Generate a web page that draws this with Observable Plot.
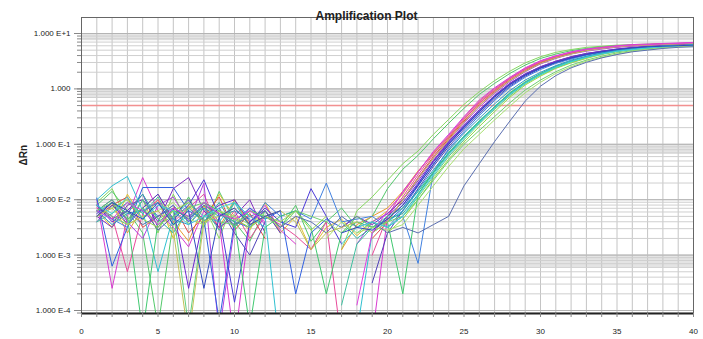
<!DOCTYPE html>
<html><head><meta charset="utf-8">
<script src="https://cdn.jsdelivr.net/npm/d3@7"></script>
<script src="https://cdn.jsdelivr.net/npm/@observablehq/plot@0.6"></script>
<style>
html,body{margin:0;padding:0;background:#fff;}
#chart svg{display:block;}
</style></head><body><div id="chart"></div>
<script>
// cycles 1..40
const cycles = d3.range(1, 41);
// log10(ΔRn) per well, cycles 1..40 (null = not plotted; very low = off-scale dip)
const w01 = [-2.05,-1.8,-2.4,-2.0,-2.6,-1.9,-2.45,-2.1,-2.7,-2.0, -2.5,-2.2,-2.6,null,null,null,-2.9,-2.2,-1.95,-1.65, -1.35,-1.12,-0.82,-0.55,-0.28,-0.05,0.15,0.32,0.47,0.58, 0.66,0.71,0.75,0.77,0.79,0.80,0.81,0.81,0.82,0.82];
const w02 = [-2.1,-1.85,-2.2,-2.6,-4.3,-2.4,-1.95,-2.5,-1.85,-2.4, -2.75,-2.2,-2.5,-2.1,-2.75,-2.4,-2.15,-2.5,-2.3,-1.8, -1.45,-1.2,-0.9,-0.62,-0.35,-0.1,0.1,0.28,0.43,0.55, 0.63,0.69,0.73,0.76,0.78,0.79,0.80,0.81,0.81,0.82];
const w03 = [-2.2,-2.5,-1.9,-2.35,-2.0,-2.7,-2.1,-2.45,-1.9,-2.3, -2.55,-2.05,-2.6,-2.3,-2.9,-2.5,-2.35,-2.65,-2.4,-2.2, -1.9,-1.5,-1.15,-0.85,-0.52,-0.22,0.0,0.2,0.37,0.5, 0.59,0.66,0.71,0.75,0.77,0.79,0.8,0.81,0.82,0.83];
const w04 = [-2.3,-2.05,-2.6,-2.15,-1.9,-2.4,-2.75,-2.1,-2.5,-2.0, -2.45,-2.3,null,null,null,null,-2.9,-2.45,-2.3,-2.15, -1.85,-1.48,-1.17,-0.88,-0.55,-0.25,-0.02,0.19,0.36,0.49, 0.58,0.65,0.7,0.74,0.77,0.79,0.8,0.81,0.82,0.82];
const w05 = [-2.0,-3.6,-2.3,-1.6,-2.2,-2.5,-2.85,-2.2,-2.4,-4.6, -2.4,-2.1,-2.55,-2.8,null,null,null,null,-4.5,-2.3, -1.85,-1.5,-1.13,-0.82,-0.5,-0.2,0.02,0.21,0.38,0.51, 0.6,0.67,0.72,0.75,0.78,0.8,0.81,0.82,0.83,0.84];
const w06 = [-2.15,-2.3,-3.3,-2.25,-2.0,-2.4,-2.15,-1.9,-2.55,-2.2, -2.7,-2.3,-2.45,-2.65,-2.9,-2.4,-4.6,null,-3.0,-2.3, -1.95,-1.55,-1.18,-0.87,-0.55,-0.26,-0.03,0.18,0.35,0.48, 0.57,0.64,0.7,0.74,0.76,0.78,0.8,0.81,0.81,0.82];
const w07 = [-2.3,-2.1,-1.95,-2.5,-2.3,-2.1,-2.6,-2.3,-1.95,-2.55, -2.25,-2.7,null,null,null,null,null,null,-2.7,-2.4, -2.0,-1.6,-1.22,-0.9,-0.58,-0.29,-0.05,0.16,0.33,0.47, 0.56,0.64,0.69,0.73,0.76,0.78,0.79,0.8,0.81,0.82];
const w08 = [-2.2,-2.0,-2.4,-2.7,-2.1,-1.95,-2.4,-1.7,-4.4,-2.5, -2.15,-2.45,null,null,null,null,null,-2.8,-2.4,-2.25, -2.0,-1.62,-1.25,-0.93,-0.62,-0.33,-0.08,0.13,0.31,0.45, 0.55,0.63,0.68,0.72,0.75,0.77,0.79,0.8,0.81,0.82];
const w09 = [-2.1,-2.4,-2.2,-1.9,-2.5,-2.15,-3.6,-2.3,-2.1,-2.0, -2.4,-2.2,-2.6,null,null,null,null,null,-2.6,-2.3, -2.05,-1.7,-1.32,-0.98,-0.68,-0.4,-0.13,0.09,0.26,0.39, 0.49,0.57,0.63,0.68,0.71,0.74,0.76,0.78,0.79,0.8];
const w10 = [-2.25,-2.05,-2.45,-2.15,-1.9,-2.35,-2.1,-1.64,-2.3,-3.85, -2.4,-2.15,-2.4,-2.5,-1.8,-2.3,-2.8,null,null,-2.35, -2.1,-1.72,-1.3,-0.96,-0.66,-0.38,-0.12,0.1,0.27,0.4, 0.5,0.58,0.64,0.68,0.72,0.74,0.76,0.78,0.79,0.8];
const w11 = [-1.97,-3.2,-2.5,-1.78,-1.78,-1.78,-2.2,-2.35,-4.2,-2.4, -2.15,-2.35,-2.2,-3.7,-2.6,-2.35,-2.5,-2.3,-2.5,-2.4, -2.15,-1.75,-1.36,-1.0,-0.7,-0.42,-0.15,0.07,0.25,0.38, 0.48,0.56,0.62,0.67,0.71,0.74,0.76,0.77,0.78,0.79];
const w12 = [-2.3,-2.5,-2.1,-2.0,-2.4,-1.8,-1.6,-2.2,-2.5,-2.3, -2.0,-2.6,null,null,null,null,-2.5,-2.3,-2.45,-2.25, -2.0,-1.66,-1.29,-0.95,-0.66,-0.38,-0.12,0.1,0.27,0.4, 0.5,0.58,0.64,0.68,0.72,0.75,0.77,0.78,0.79,0.8];
const w13 = [-2.4,-2.1,-2.35,-2.15,-2.55,-2.3,-2.0,-2.4,-2.15,-2.6, -3.0,-2.4,null,null,null,null,null,null,-3.5,-2.6, -2.2,-1.8,-1.4,-1.04,-0.73,-0.45,-0.18,0.05,0.23,0.37, 0.47,0.55,0.62,0.67,0.7,0.73,0.75,0.77,0.78,0.79];
const w14 = [-2.2,-2.35,-2.5,-2.0,-2.3,-2.1,-2.4,-2.05,-2.25,-2.4, -2.5,-2.05,-2.3,-2.2,-2.35,-1.7,-2.4,-2.35,-2.3,-2.5, -2.3,-3.15,-1.5,-1.08,-0.77,-0.48,-0.21,0.03,0.21,0.35, 0.46,0.54,0.61,0.66,0.7,0.73,0.75,0.77,0.78,0.79];
const w15 = [-2.0,-1.75,-1.58,-2.2,-3.3,-2.3,-2.05,-2.3,-2.4,-2.05, -2.5,-2.3,-4.8,null,null,null,null,-4.4,-2.6,-2.4, -2.2,-1.85,-1.5,-1.15,-0.85,-0.58,-0.32,-0.08,0.12,0.27, 0.4,0.5,0.58,0.64,0.69,0.72,0.75,0.77,0.78,0.79];
const w16 = [-2.3,-2.05,-2.25,-1.9,-2.35,-2.6,-2.15,-2.4,-2.05,-2.5, -2.2,null,null,null,null,null,-2.4,-2.7,-2.5,-2.35, -2.25,-1.9,-1.52,-1.17,-0.87,-0.6,-0.33,-0.09,0.11,0.26, 0.39,0.49,0.57,0.63,0.68,0.72,0.74,0.76,0.78,0.79];
const w17 = [-2.2,-2.0,-2.3,-4.4,-2.4,-2.2,-2.3,-2.05,-2.2,-2.4, -4.3,-2.5,-2.3,-2.2,-2.5,-3.7,-2.6,-2.4,-2.5,-2.4, -3.7,-1.9,-1.5,-1.15,-0.86,-0.58,-0.32,-0.07,0.13,0.28, 0.41,0.5,0.58,0.64,0.69,0.72,0.75,0.77,0.78,0.79];
const w18 = [-2.1,-2.3,-2.45,-2.0,-2.35,-2.2,-4.3,-2.3,-2.2,-2.5, -2.2,-2.3,null,null,null,null,null,-2.6,-2.4,-2.5, -2.3,-1.95,-1.58,-1.22,-0.92,-0.63,-0.37,-0.12,0.09,0.25, 0.38,0.48,0.56,0.63,0.68,0.71,0.74,0.76,0.78,0.79];
const w19 = [-2.3,-2.15,-2.0,-2.35,-2.5,-2.2,-2.05,-2.4,-2.2,-2.35, -2.5,-2.3,-2.4,-2.2,-2.55,-2.3,null,null,null,-2.6, -2.35,-2.0,-1.62,-1.27,-0.96,-0.68,-0.41,-0.15,0.07,0.23, 0.37,0.47,0.55,0.62,0.67,0.71,0.74,0.76,0.77,0.78];
const w20 = [-2.4,-2.25,-2.05,-2.25,-1.95,-2.45,-2.3,-2.15,-2.55,-2.05, -2.3,null,null,null,null,null,-3.9,-2.8,-2.5,-2.3, -2.15,-1.85,-1.5,-1.16,-0.86,-0.59,-0.32,-0.08,0.12,0.27, 0.4,0.5,0.58,0.64,0.68,0.72,0.74,0.76,0.78,0.79];
const w21 = [-2.2,-2.45,-2.25,-2.2,-2.05,-2.35,-2.45,-2.15,-2.3,-2.2, -2.35,null,null,null,null,null,null,null,null,-2.5, -2.2,-1.82,-1.46,-1.11,-0.8,-0.53,-0.27,-0.03,0.16,0.3, 0.42,0.52,0.59,0.65,0.69,0.72,0.75,0.77,0.78,0.79];
const w22 = [-2.2,-2.05,-2.35,-2.15,-2.45,-2.3,-2.15,-2.05,-2.4,-2.45, -2.2,-2.3,-2.5,-2.2,-2.3,-2.4,-2.6,-2.3,-2.5,-2.4, -2.3,-2.0,-1.65,-1.3,-1.0,-0.75,-0.5,-0.25,-0.02,0.16, 0.31,0.43,0.52,0.59,0.65,0.69,0.72,0.75,0.77,0.78];
const w23 = [-2.3,-2.15,-2.45,-2.3,-2.2,-2.05,-2.35,-2.45,-2.2,-2.3, -2.45,-2.3,null,null,null,-2.7,-2.4,-2.6,-2.5,-2.55, -2.45,-2.1,-1.75,-1.4,-1.08,-0.82,-0.56,-0.31,-0.07,0.12, 0.28,0.4,0.5,0.57,0.63,0.68,0.71,0.74,0.76,0.77];
const w24 = [-2.1,-2.35,-2.2,-2.45,-2.3,-2.15,-2.35,-2.1,-2.25,-2.45, -2.3,-2.2,-2.5,-2.3,-2.4,-2.6,-2.3,-2.5,-2.4,-2.6, -2.5,-2.6,-2.45,-2.3,-1.75,-1.35,-0.95,-0.58,-0.22,0.05, 0.24,0.38,0.48,0.56,0.62,0.67,0.7,0.73,0.75,0.76];
const w25 = [-2.3,-2.15,-2.45,-2.3,-2.2,-2.55,-4.5,-2.4,-2.3,-2.15, -2.45,-2.3,-2.2,-2.4,-2.9,-2.6,-2.5,-2.4,-2.6,-2.4, -2.0,-1.62,-1.25,-0.92,-0.6,-0.3,-0.06,0.15,0.32,0.46, 0.56,0.63,0.69,0.73,0.76,0.78,0.79,0.8,0.81,0.82];
const w26 = [-2.1,-2.25,-1.95,-2.35,-2.1,-2.2,-2.45,-2.3,-2.15,-2.05, -2.3,-2.5,null,null,null,null,-2.8,-2.5,-2.4,-2.5, -2.3,-1.92,-1.55,-1.19,-0.89,-0.61,-0.35,-0.1,0.1,0.26, 0.39,0.49,0.57,0.63,0.68,0.71,0.74,0.76,0.78,0.79];
const w27 = [-2.2,-2.35,-2.05,-2.2,-2.45,-2.15,-2.3,-2.05,-2.25,-2.35, -2.2,-2.4,null,null,null,null,null,-3.9,-2.6,-2.2, -1.88,-1.5,-1.14,-0.84,-0.52,-0.23,0.0,0.2,0.37,0.5, 0.59,0.66,0.71,0.74,0.77,0.79,0.8,0.81,0.82,0.83];
const w28 = [-2.3,-2.05,-2.2,-2.35,-2.05,-2.45,-2.2,-3.6,-2.3,-2.15, -2.45,-2.3,-2.2,null,null,null,-2.6,-2.5,-2.55,-2.35, -2.1,-1.74,-1.36,-1.0,-0.69,-0.41,-0.14,0.08,0.25,0.38, 0.48,0.56,0.62,0.67,0.71,0.74,0.76,0.77,0.78,0.79];

const wells = [w01,w02,w03,w04,w05,w06,w07,w08,w09,w10,w11,w12,w13,w14,w15,w16,w17,w18,w19,w20,w21,w22,w23,w24,w25,w26,w27,w28];
const wellColors = ["#86d860","#52c86a","#e0c030","#e89a30","#d83ad0","#e84a9a","#e04848","#b040e0","#6a28d0","#4a38d8",
  "#3060e0","#8030c0","#5040b8","#4080e0","#30c0d0","#30b0a0","#40c870","#60d080","#98d848","#40c0a0",
  "#3098c8","#70d070","#a8e070","#5a6eb0","#c0c058","#40d0e0","#e040e0","#3048c0"];

const threshold = 0.5;
const yTickValues = [1e-4, 1e-3, 1e-2, 1e-1, 1, 10];
const yTickLabels = ["1.000 E-4", "1.000 E-3", "1.000 E-2", "1.000 E-1", "1.000", "1.000 E+1"];
const xTickValues = [0, 5, 10, 15, 20, 25, 30, 35, 40];
const bandTops = [10, 1, 0.1, 0.001];
const bandBottoms = [7.4, 0.7, 0.066, 0.0006];
const title = "Amplification Plot";
const yLabel = "ΔRn";

const rows = wells.flatMap((w, i) => w.map((v, j) => ({well: i, cycle: cycles[j], rn: v == null ? NaN : Math.pow(10, v)})));
const bands = bandTops.map((t, i) => ({hi: t, lo: bandBottoms[i]}));
const yDomain = [8.83e-5, 19.45];
const minorY = d3.range(-5, 2).flatMap(e => d3.range(1, 10).map(k => k * Math.pow(10, e)))
  .filter(v => v >= yDomain[0] && v <= yDomain[1]);
const gridCycles = d3.range(0, 41);

const chart = Plot.plot({
  width: 703, height: 339,
  marginLeft: 81, marginRight: 10, marginTop: 17, marginBottom: 26,
  style: {fontFamily: "'Liberation Sans', Arial, sans-serif", fontSize: "8px", color: "#222", background: "#fff"},
  x: {domain: [0, 40], label: null},
  y: {type: "log", domain: yDomain, label: null},
  marks: [
    Plot.rect(bands, {y1: "lo", y2: "hi", fill: "#e4e4e4"}),
    Plot.gridX(gridCycles, {stroke: "#c4c4c4", strokeOpacity: 1}),
    Plot.gridY(minorY, {stroke: "#cfcfcf", strokeOpacity: 1}),
    Plot.gridY(yTickValues, {stroke: "#b4b4b4", strokeOpacity: 1}),
    Plot.ruleY([threshold], {stroke: "#f29090", strokeWidth: 1.5}),
    Plot.line(rows, {x: "cycle", y: "rn", z: "well", stroke: d => wellColors[d.well], strokeWidth: 1, clip: true}),
    Plot.frame({stroke: "#666"}),
    Plot.ruleY([yDomain[0]], {stroke: "#222", strokeWidth: 2}),
    Plot.axisY(minorY, {tickSize: 4, tickFormat: () => "", stroke: "#888"}),
    Plot.axisY(yTickValues, {tickSize: 7, tickPadding: 4, tickFormat: d => yTickLabels[yTickValues.indexOf(d)], stroke: "#888", fontSize: 8}),
    Plot.axisX(gridCycles, {tickSize: 4, tickFormat: () => "", stroke: "#888"}),
    Plot.axisX(xTickValues, {tickSize: 0, tickPadding: 15, fontSize: 8}),
    Plot.text([title], {frameAnchor: "top", dy: -6, dx: -21, fontWeight: "bold", fontSize: 12, fill: "#222"}),
    Plot.text([yLabel], {frameAnchor: "left", dx: -58, rotate: -90, fontWeight: "bold", fontSize: 10, fill: "#222"})
  ]
});
document.getElementById("chart").append(chart);
</script>
</body></html>
